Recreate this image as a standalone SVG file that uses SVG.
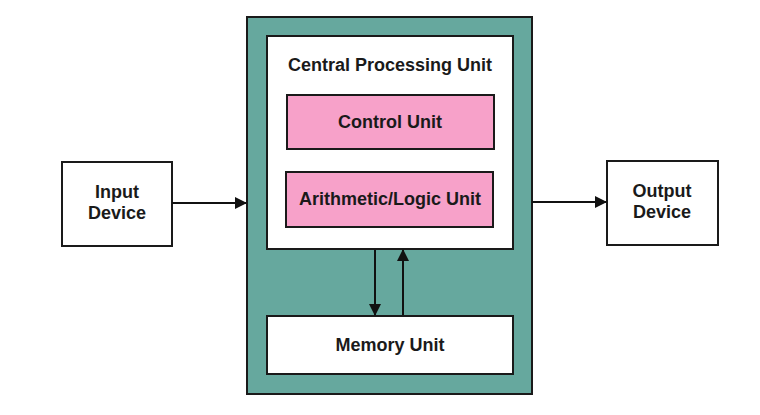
<svg xmlns="http://www.w3.org/2000/svg" width="760" height="415" viewBox="0 0 760 415">
<defs>
<marker id="ah" markerWidth="12" markerHeight="12" refX="11" refY="6" orient="auto" markerUnits="userSpaceOnUse">
<path d="M0,0 L12,6 L0,12 Z" fill="#111"/>
</marker>
<style>
.box{stroke:#1a1a1a;stroke-width:2}
.w{fill:#ffffff}
.p{fill:#f7a1c9}
.t{font-family:"Liberation Sans",Arial,sans-serif;font-weight:bold;font-size:18px;fill:#1a1a1a;text-anchor:middle;dominant-baseline:central}
.c{stroke:#111;stroke-width:2;fill:none}
</style>
</defs>
<rect width="760" height="415" fill="#ffffff"/>
<g id="computer">
<rect class="box" x="247" y="17" width="285" height="377" fill="#66a89e"/>
</g>
<g id="cpu">
<rect class="box w" x="267" y="36" width="246" height="213"/>
<text class="t" x="390" y="65">Central Processing Unit</text>
</g>
<g id="control-unit">
<rect class="box p" x="287" y="95" width="207" height="54"/>
<text class="t" x="390" y="122">Control Unit</text>
</g>
<g id="alu">
<rect class="box p" x="286" y="172" width="207" height="55"/>
<text class="t" x="390" y="199">Arithmetic/Logic Unit</text>
</g>
<g id="memory-unit">
<rect class="box w" x="267" y="316" width="246" height="58"/>
<text class="t" x="390" y="345">Memory Unit</text>
</g>
<g id="input-device">
<rect class="box w" x="62" y="162" width="110" height="84"/>
<text class="t" x="117" y="192">Input</text>
<text class="t" x="117" y="213">Device</text>
</g>
<g id="output-device">
<rect class="box w" x="607" y="161" width="111" height="84"/>
<text class="t" x="662" y="191">Output</text>
<text class="t" x="662" y="212">Device</text>
</g>
<g id="connectors">
<line class="c" x1="172" y1="203" x2="246" y2="203" marker-end="url(#ah)"/>
<line class="c" x1="532" y1="202" x2="606" y2="202" marker-end="url(#ah)"/>
<line class="c" x1="375" y1="250" x2="375" y2="315" marker-end="url(#ah)"/>
<line class="c" x1="403" y1="315" x2="403" y2="250" marker-end="url(#ah)"/>
</g>
</svg>
